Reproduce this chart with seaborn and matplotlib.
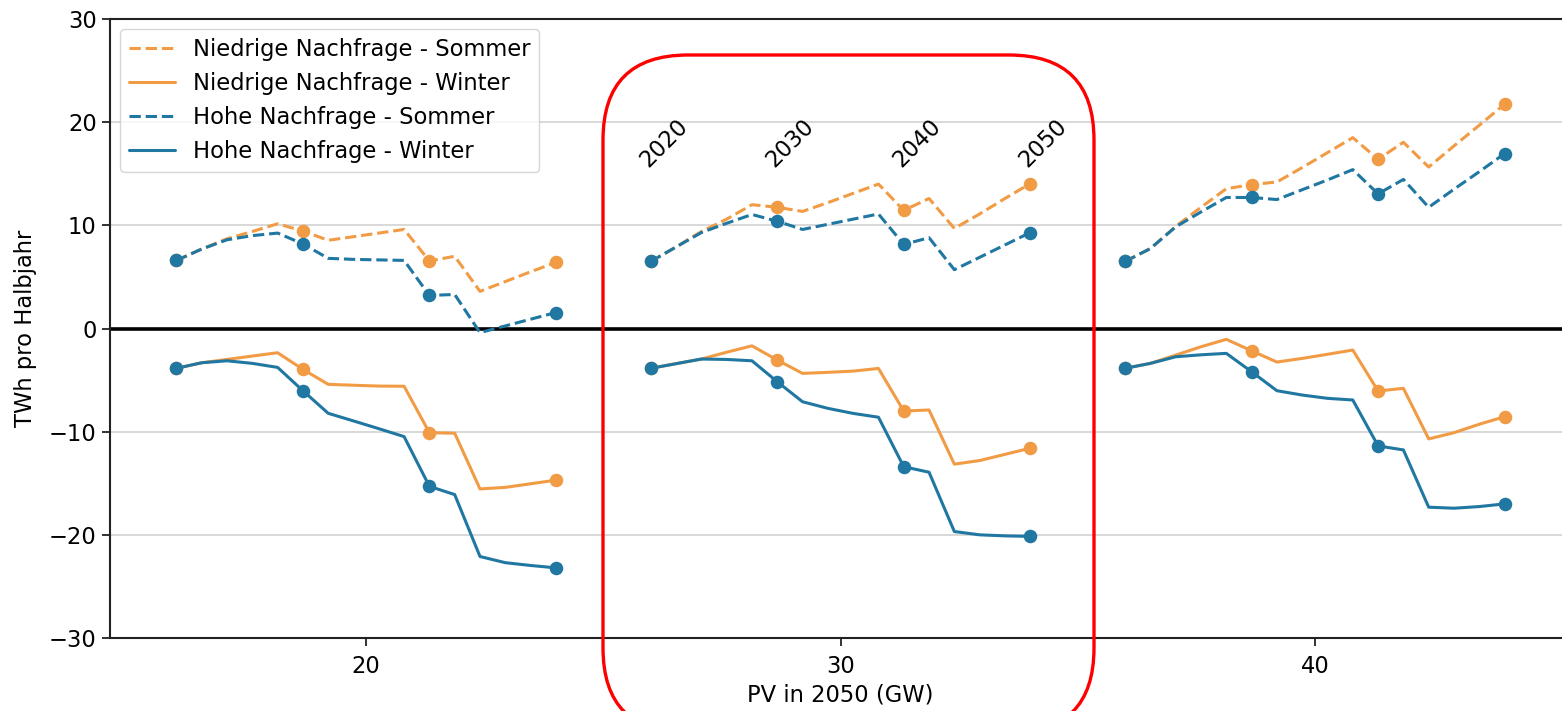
import matplotlib
matplotlib.use("Agg")
import matplotlib.pyplot as plt
import numpy as np
import pandas as pd
import seaborn as sns
from matplotlib.lines import Line2D
from matplotlib.patches import FancyBboxPatch
from matplotlib.transforms import IdentityTransform

# Stützjahre der Szenarien (Zweijahresschritte)
jahre = list(range(2020, 2051, 2))
# installierte PV-Leistung 2050 je Szenariogruppe (GW)
pv_2050 = [20, 30, 40]
markierte_jahre = [2020, 2030, 2040, 2050]

# Saldo in TWh pro Halbjahr, je Gruppe (20 / 30 / 40 GW)
niedrig_sommer = [
    [6.6, 7.7, 8.7, 9.4, 10.15, 9.45, 8.55, 8.9, 9.25, 9.6, 6.55, 7.0, 3.6, 4.55, 5.5, 6.4],
    [6.5, 7.9, 9.4, 10.6, 12.0, 11.75, 11.35, 12.2, 13.1, 14.0, 11.45, 12.6, 9.7, 11.1, 12.6, 14.05],
    [6.5, 7.75, 9.9, 11.75, 13.55, 13.95, 14.2, 15.6, 17.05, 18.5, 16.4, 18.05, 15.65, 17.7, 19.7, 21.75],
]
niedrig_winter = [
    [-3.86, -3.32, -3.0, -2.67, -2.35, -3.96, -5.41, -5.5, -5.58, -5.6, -10.1, -10.15, -15.55, -15.4, -15.05, -14.7],
    [-3.86, -3.41, -2.96, -2.3, -1.68, -3.06, -4.35, -4.25, -4.13, -3.87, -8.0, -7.9, -13.15, -12.8, -12.2, -11.6],
    [-3.86, -3.38, -2.58, -1.77, -1.05, -2.16, -3.25, -2.9, -2.5, -2.09, -6.06, -5.8, -10.7, -10.1, -9.28, -8.55],
]
hoch_sommer = [
    [6.6, 7.7, 8.6, 9.0, 9.25, 8.2, 6.8, 6.7, 6.65, 6.6, 3.2, 3.3, -0.4, 0.25, 0.9, 1.55],
    [6.5, 7.9, 9.3, 10.2, 11.05, 10.4, 9.6, 10.1, 10.6, 11.1, 8.15, 8.8, 5.7, 6.9, 8.1, 9.3],
    [6.5, 7.75, 9.85, 11.3, 12.7, 12.7, 12.5, 13.45, 14.4, 15.4, 13.05, 14.45, 11.75, 13.5, 15.2, 16.95],
]
hoch_winter = [
    [-3.86, -3.32, -3.13, -3.38, -3.77, -6.03, -8.22, -8.96, -9.71, -10.48, -15.3, -16.1, -22.1, -22.7, -22.97, -23.2],
    [-3.86, -3.41, -2.96, -3.0, -3.13, -5.16, -7.1, -7.74, -8.23, -8.6, -13.4, -13.93, -19.68, -20.0, -20.1, -20.15],
    [-3.86, -3.38, -2.74, -2.55, -2.41, -4.19, -6.03, -6.45, -6.77, -6.93, -11.38, -11.77, -17.32, -17.42, -17.26, -17.0],
]

reihen = [
    ("Niedrige Nachfrage - Sommer", niedrig_sommer, "#F29B45", "--"),
    ("Niedrige Nachfrage - Winter", niedrig_winter, "#F29B45", "-"),
    ("Hohe Nachfrage - Sommer", hoch_sommer, "#1F77A2", "--"),
    ("Hohe Nachfrage - Winter", hoch_winter, "#1F77A2", "-"),
]

# Langformat: jede Gruppe wird um ihren PV-Wert herum über die Jahre aufgefächert
zeilen = []
for name, werte, _, _ in reihen:
    for g, pv in enumerate(pv_2050):
        for jahr, v in zip(jahre, werte[g]):
            zeilen.append({
                "reihe": name,
                "gruppe": pv,
                "jahr": jahr,
                "pv": pv - 4 + (jahr - 2020) * 8 / 30,
                "twh": v,
            })
df = pd.DataFrame(zeilen)

sns.set_theme(style="white")
plt.rcParams["font.family"] = ["DejaVu Sans"]
FS = 16.3

fig = plt.figure(figsize=(15.62, 7.11), dpi=100)
ax = fig.add_axes([110 / 1562, 73 / 711, 1461 / 1562, 619 / 711])

ax.axhline(0, color="black", lw=2.6, zorder=1.5)

for name, _, farbe, stil in reihen:
    sub = df[df["reihe"] == name]
    sns.lineplot(data=sub, x="pv", y="twh", units="gruppe", estimator=None,
                 sort=False, color=farbe, linestyle=stil, lw=2.2, ax=ax,
                 legend=False, zorder=2)

for name, _, farbe, _ in reihen:
    sub = df[(df["reihe"] == name) & (df["jahr"].isin(markierte_jahre))]
    sns.scatterplot(data=sub, x="pv", y="twh", color=farbe, s=95,
                    linewidth=0, ax=ax, legend=False, zorder=3)

# Jahreszahlen über der mittleren Gruppe
for jahr in markierte_jahre:
    xpos = pv_2050[1] - 4 + (jahr - 2020) * 8 / 30
    ax.text(xpos + 0.28, 18.0, str(jahr), rotation=45, ha="center",
            va="center", fontsize=FS, color="black")

ax.set_xlim(14.6, 45.4)
ax.set_ylim(-30, 30)
ax.set_xticks([20, 30, 40])
ax.set_yticks([-30, -20, -10, 0, 10, 20, 30])
ax.yaxis.grid(True, color="#d6d6d6", lw=1.3)
ax.xaxis.grid(False)
ax.set_axisbelow(True)
for s in ax.spines.values():
    s.set_color("#222222")
    s.set_linewidth(1.5)
ax.tick_params(axis="both", bottom=True, left=True, direction="out",
               length=6, width=1.3, color="#222222", labelsize=FS,
               labelcolor="black")
ax.tick_params(axis="x", pad=6.5)
ax.set_xlabel("PV in 2050 (GW)", fontsize=FS, color="black", labelpad=3.5)
ax.set_ylabel("TWh pro Halbjahr", fontsize=FS, color="black", labelpad=9)

handles = [Line2D([0], [0], color=f, linestyle=st, lw=2.2) for _, _, f, st in reihen]
labels = [n for n, _, _, _ in reihen]
leg = ax.legend(handles, labels, loc="upper left", fontsize=16.3, frameon=True,
                fancybox=True, framealpha=0.8, edgecolor="#cccccc",
                borderaxespad=0.45, labelspacing=0.48, labelcolor="black")

# Hervorhebung der 30-GW-Gruppe
rahmen = FancyBboxPatch((603, -22), 491, 678,
                        boxstyle="round,pad=0,rounding_size=85",
                        transform=IdentityTransform(), fill=False,
                        edgecolor="red", lw=2.4, zorder=10)
fig.add_artist(rahmen)

fig.savefig("out.png", dpi=100)
